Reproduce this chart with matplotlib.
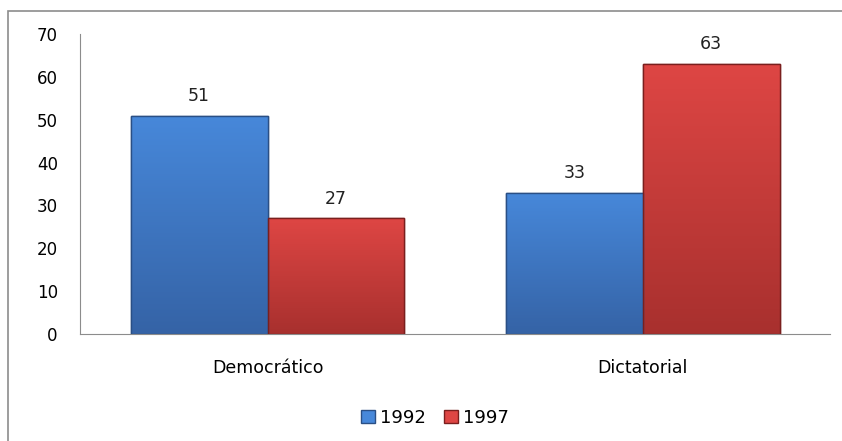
import numpy as np
import matplotlib
matplotlib.use("Agg")
import matplotlib.pyplot as plt
from matplotlib.colors import LinearSegmentedColormap
from matplotlib.patches import Rectangle

categories = ["Democrático", "Dictatorial"]
years = ["1992", "1997"]
values_1992 = [51, 33]
values_1997 = [27, 63]

top_colors = ["#4788DA", "#DE4644"]
bottom_colors = ["#3563A6", "#A8302E"]
edge_colors = ["#2A4F85", "#7A1F1E"]

fig = plt.figure(figsize=(8.42, 4.41), dpi=100)
ax = fig.add_axes([0.095, 0.2426, 0.891, 0.68])

# outer chart border (only left and top visible in the picture)
fig.add_artist(Rectangle((8 / 842, -0.1), 1.2, 1.1 - 11 / 441, transform=fig.transFigure,
                         fill=False, edgecolor="#8c8c8c", linewidth=1.2))

x = np.arange(len(categories))
width = 0.365

series = [values_1992, values_1997]
offsets = [-width / 2, width / 2]
grad = np.linspace(0, 1, 256).reshape(-1, 1)

for i, vals in enumerate(series):
    bars = ax.bar(x + offsets[i], vals, width, color=top_colors[i],
                  edgecolor=edge_colors[i], linewidth=1.0, label=years[i], zorder=2)
    cmap = LinearSegmentedColormap.from_list("g%d" % i, [bottom_colors[i], top_colors[i]])
    for b, v in zip(bars, vals):
        x0 = b.get_x()
        im = ax.imshow(grad, extent=[x0, x0 + width, 0, v], origin="lower",
                       cmap=cmap, aspect="auto", zorder=2.5)
        im.set_clip_path(b)
        ax.add_patch(Rectangle((x0, 0), width, v, fill=False,
                               edgecolor=edge_colors[i], linewidth=1.0, zorder=3))
        ax.text(x0 + width / 2, v + 2.5, str(v), ha="center", va="bottom",
                fontsize=12.5, color="#222222")

ax.set_xlim(-0.5, 1.5)
ax.set_ylim(0, 70)
ax.set_yticks(range(0, 71, 10))
ax.set_xticks(x)
ax.set_xticklabels(categories, fontsize=12.5)
ax.tick_params(axis="y", length=0, labelsize=12, pad=16)
ax.tick_params(axis="x", length=0, pad=18)

for s in ["top", "right"]:
    ax.spines[s].set_visible(False)
ax.spines["left"].set_color("#8c8c8c")
ax.spines["bottom"].set_color("#8c8c8c")

# legend centred near x=435px
ax.legend(loc="center", bbox_to_anchor=((435 / 842 - 0.095) / 0.891, -0.28),
          ncol=2, frameon=False, fontsize=13, handlelength=0.75, handleheight=0.75,
          handletextpad=0.3, columnspacing=1.0)

fig.savefig("out.png", dpi=100)
